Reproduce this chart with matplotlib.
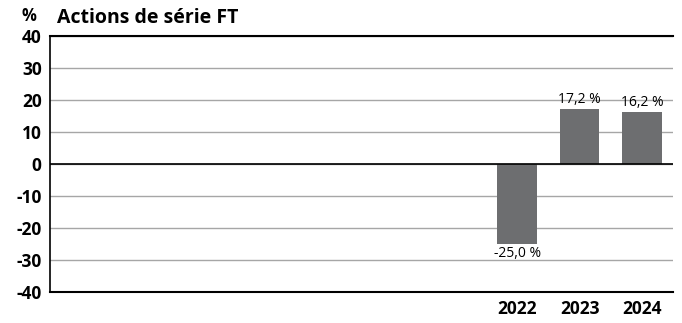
import matplotlib
matplotlib.use("Agg")
import matplotlib.pyplot as plt
import numpy as np

years = ["2015", "2016", "2017", "2018", "2019", "2020", "2021", "2022", "2023", "2024"]
tick_labels = ["", "", "", "", "", "", "", "2022", "2023", "2024"]
returns = [np.nan] * 7 + [-25.0, 17.2, 16.2]
labels = [""] * 7 + ["-25,0 %", "17,2 %", "16,2 %"]

plt.rcParams["font.family"] = ["Open Sans", "DejaVu Sans"]

fig = plt.figure(figsize=(6.82, 3.23), dpi=100)
ax = fig.add_axes([50 / 682, 1 - 292 / 323, 623 / 682, 256 / 323])

x = np.arange(len(years))
vals = np.nan_to_num(np.array(returns, dtype=float))
ax.bar(x, vals, width=0.64, color="#6d6e70", zorder=3)

for xi, v, lab in zip(x, vals, labels):
    if not lab:
        continue
    if v >= 0:
        ax.text(xi, v + 0.6, lab, ha="center", va="bottom", fontsize=10, zorder=4)
    else:
        ax.text(xi, v - 0.6, lab, ha="center", va="top", fontsize=10, zorder=4)

ax.set_xlim(-0.5, len(years) - 0.5)
ax.set_ylim(-40, 40)
ax.set_yticks(np.arange(-40, 41, 10))
ax.set_yticklabels([str(t) for t in range(-40, 41, 10)], fontsize=12.5, fontweight="bold")
ax.set_xticks(x)
ax.set_xticklabels(tick_labels, fontsize=12.5, fontweight="bold")
ax.tick_params(axis="both", length=0, pad=6)
ax.tick_params(axis="x", pad=6)

ax.grid(axis="y", color="#a6a6a6", linewidth=1, zorder=0)
ax.axhline(0, color="black", linewidth=1.2, zorder=4)
ax.spines["right"].set_visible(False)
ax.spines["top"].set_linewidth(1.5)
ax.spines["left"].set_linewidth(1.2)
ax.spines["bottom"].set_linewidth(1.5)

fig.text(22 / 682, 1 - 16 / 323, "%", fontsize=12, fontweight="bold", va="center")
fig.text(57 / 682, 1 - 18 / 323, "Actions de série FT", fontsize=14, fontweight="bold", va="center")

fig.savefig("out.png", dpi=100)
